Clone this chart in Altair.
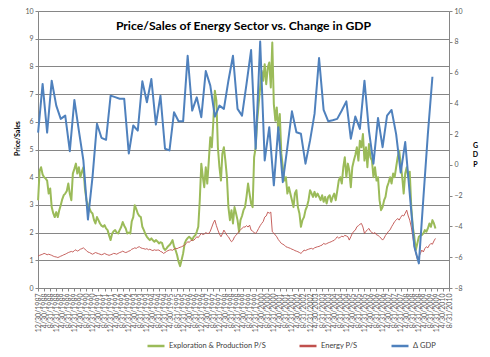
import altair as alt
import pandas as pd

# Exploration & Production P/S, monthly Jan 1988 - Dec 2009
ep_ps = [
    3.17, 4.24, 4.36, 4.10, 4.00, 3.95, 3.88, 3.41, 3.59, 2.92, 2.70, 2.56,
    2.74, 2.56, 2.80, 2.99, 3.20, 3.35, 3.41, 3.50, 3.77, 3.40, 3.17, 4.13,
    4.30, 4.49, 4.13, 4.36, 4.00, 4.20, 4.36, 3.60, 3.17, 3.00, 2.87, 2.75,
    2.69, 2.45, 2.33, 2.56, 2.45, 2.33, 2.25, 2.21, 2.27, 2.15, 2.09, 1.90,
    1.73, 1.97, 2.05, 2.09, 2.00, 1.97, 2.09, 2.20, 2.38, 2.25, 2.15, 1.97,
    2.00, 1.97, 2.40, 2.56, 2.99, 2.85, 2.69, 2.60, 2.56, 2.21, 2.09, 1.95,
    1.85, 1.78, 1.73, 1.79, 1.72, 1.67, 1.73, 1.68, 1.61, 1.65, 1.63, 1.45,
    1.37, 1.43, 1.50, 1.55, 1.62, 1.73, 1.50, 1.37, 1.19, 0.95, 0.79, 1.01,
    1.25, 1.61, 1.73, 1.80, 1.85, 1.80, 1.73, 1.85, 1.90, 2.03, 2.21, 3.17,
    4.49, 4.00, 3.64, 4.36, 3.77, 4.60, 5.44, 5.08, 6.04, 7.12, 6.76, 5.08,
    4.36, 3.88, 4.85, 5.08, 4.60, 4.00, 2.92, 2.45, 2.81, 2.33, 2.92, 2.70,
    2.45, 2.03, 2.45, 2.60, 2.81, 2.92, 3.30, 3.77, 3.40, 3.05, 2.92, 4.72,
    5.08, 6.04, 6.64, 7.24, 7.84, 7.48, 8.08, 7.36, 7.96, 8.14, 7.24, 8.86,
    6.64, 6.04, 6.52, 5.68, 6.28, 4.85, 4.36, 3.88, 4.00, 3.41, 3.64, 3.40,
    3.17, 2.92, 3.41, 3.53, 2.92, 2.69, 2.21, 2.45, 2.56, 2.81, 2.95, 3.17,
    3.53, 3.41, 3.29, 3.47, 3.29, 3.41, 3.30, 3.17, 3.35, 3.11, 3.29, 3.05,
    3.29, 3.35, 3.11, 3.29, 3.41, 3.17, 3.50, 3.88, 4.00, 3.77, 4.36, 4.72,
    4.00, 4.49, 4.24, 3.64, 4.36, 4.60, 4.80, 5.08, 4.60, 5.32, 5.08, 5.56,
    4.60, 5.08, 4.36, 5.20, 4.72, 4.60, 4.00, 4.36, 3.88, 4.00, 3.17, 2.81,
    2.92, 3.17, 3.29, 3.64, 3.80, 4.00, 3.77, 4.13, 4.00, 4.36, 4.72, 4.96,
    4.49, 4.00, 3.41, 4.13, 4.36, 4.00, 4.20, 2.92, 2.21, 1.85, 1.37, 1.61,
    1.85, 1.90, 1.91, 1.97, 2.09, 2.03, 2.15, 2.33, 2.21, 2.45, 2.33, 2.15,
]

# Energy P/S, monthly Jan 1988 - Dec 2009
energy_ps = [
    1.15, 1.18, 1.20, 1.22, 1.25, 1.23, 1.20, 1.22, 1.20, 1.18, 1.15, 1.13,
    1.12, 1.10, 1.12, 1.15, 1.17, 1.20, 1.22, 1.25, 1.28, 1.30, 1.32, 1.30,
    1.35, 1.38, 1.33, 1.36, 1.40, 1.42, 1.45, 1.40, 1.35, 1.30, 1.28, 1.25,
    1.22, 1.25, 1.28, 1.26, 1.24, 1.22, 1.20, 1.22, 1.25, 1.22, 1.20, 1.18,
    1.20, 1.22, 1.25, 1.24, 1.22, 1.25, 1.28, 1.30, 1.33, 1.30, 1.28, 1.30,
    1.33, 1.35, 1.40, 1.42, 1.45, 1.43, 1.47, 1.49, 1.45, 1.43, 1.42, 1.40,
    1.42, 1.38, 1.40, 1.37, 1.35, 1.38, 1.36, 1.37, 1.37, 1.32, 1.30, 1.25,
    1.28, 1.32, 1.35, 1.37, 1.38, 1.36, 1.40, 1.43, 1.42, 1.45, 1.47, 1.49,
    1.52, 1.55, 1.60, 1.67, 1.65, 1.70, 1.73, 1.72, 1.78, 1.85, 1.82, 1.90,
    1.97, 1.93, 1.95, 2.00, 1.97, 1.97, 2.05, 2.20, 2.35, 2.45, 2.25, 2.09,
    1.95, 1.85, 1.95, 2.09, 2.00, 1.90, 1.85, 1.75, 1.67, 1.72, 1.85, 1.90,
    1.97, 2.05, 2.10, 2.15, 2.20, 2.20, 2.25, 2.20, 2.27, 2.09, 2.05, 2.00,
    1.97, 2.05, 2.15, 2.25, 2.33, 2.40, 2.56, 2.60, 2.74, 2.70, 2.74, 2.03,
    1.98, 1.91, 1.85, 1.75, 1.68, 1.61, 1.58, 1.55, 1.49, 1.47, 1.45, 1.43,
    1.40, 1.38, 1.35, 1.33, 1.31, 1.28, 1.25, 1.30, 1.37, 1.35, 1.38, 1.40,
    1.42, 1.43, 1.40, 1.45, 1.47, 1.49, 1.50, 1.53, 1.55, 1.61, 1.58, 1.60,
    1.63, 1.65, 1.67, 1.70, 1.72, 1.78, 1.85, 1.80, 1.83, 1.87, 1.85, 1.90,
    1.88, 1.85, 1.73, 1.85, 1.97, 2.05, 2.09, 2.21, 2.25, 2.30, 2.33, 2.20,
    1.97, 2.05, 2.10, 2.15, 2.05, 2.00, 1.97, 2.00, 1.92, 1.90, 1.85, 1.80,
    1.73, 1.80, 1.90, 1.97, 2.05, 2.10, 2.21, 2.30, 2.40, 2.45, 2.51, 2.45,
    2.55, 2.63, 2.60, 2.70, 2.81, 2.60, 2.45, 2.20, 1.85, 1.50, 1.25, 1.05,
    1.13, 1.25, 1.37, 1.30, 1.42, 1.49, 1.45, 1.55, 1.61, 1.58, 1.70, 1.79,
]

# Change in GDP, quarterly Q1 1988 - Q4 2009
gdp = [
    2.10, 5.26, 2.10, 5.47, 3.85, 2.99, 3.20, 0.89, 4.22, 2.23,
    0.29, -3.55, -0.79, 2.67, 1.76, 1.63, 4.50, 4.40, 4.30, 4.29,
    0.74, 2.56, 2.23, 5.43, 4.07, 5.58, 2.62, 4.50, 1.05, 0.94,
    3.42, 2.84, 2.84, 7.09, 3.53, 4.39, 3.10, 6.10, 5.15, 3.14,
    3.85, 3.64, 5.47, 7.09, 3.64, 3.20, 5.26, 7.46, 1.05, 8.02,
    0.29, 2.45, -1.33, 2.45, -1.12, 1.15, 3.48, 2.12, 2.02, 0.08,
    1.59, 3.31, 6.94, 3.57, 2.84, 2.90, 2.99, 3.53, 4.13, 1.70,
    3.14, 2.34, 5.47, 2.23, 0.08, 3.05, 1.15, 3.20, 3.57, 2.00,
    -0.50, 1.48, -1.87, -5.30, -6.40, -2.20, 2.00, 5.73,
]

series_names = ["Exploration & Production P/S", "Energy P/S", "\u0394 GDP"]
series_colors = ["#9BBB59", "#C0504D", "#4F81BD"]

# x tick dates: 12/30/1987 then every 4 months (month ends) to 8/31/2010
tick_dates = [pd.Timestamp(1987, 12, 30)]
for yr in range(1988, 2011):
    for mo in (4, 8, 12):
        d = pd.Timestamp(yr, mo, 1) + pd.offsets.MonthEnd(0)
        if d <= pd.Timestamp(2010, 8, 31):
            tick_dates.append(d)

months = pd.date_range("1988-01-01", periods=len(ep_ps), freq="MS")
quarters = pd.date_range("1988-01-01", periods=len(gdp), freq="QS")

fmt = "%Y-%m-%dT00:00:00"
ps_df = pd.concat([
    pd.DataFrame({"date": months.strftime(fmt), "value": ep_ps, "series": series_names[0]}),
    pd.DataFrame({"date": months.strftime(fmt), "value": energy_ps, "series": series_names[1]}),
])
gdp_df = pd.DataFrame({"date": quarters.strftime(fmt), "value": gdp, "series": series_names[2]})

FONT = "Lato"
GRAY = "#868686"
LABEL = "#595959"

x_enc = alt.X(
    "date:T",
    scale=alt.Scale(domain=[alt.DateTime(year=1987, month=12, date=30),
                            alt.DateTime(year=2010, month=8, date=31)]),
    axis=alt.Axis(
        values=[alt.DateTime(year=d.year, month=d.month, date=d.day) for d in tick_dates],
        format="%-m/%-d/%Y", labelAngle=270, labelFontSize=7, labelColor=LABEL,
        labelOverlap=False, labelFlush=False, labelBound=False, labelPadding=2,
        tickSize=3, tickColor=GRAY, domainColor=GRAY, grid=False, title=None,
        labelFont=FONT,
    ),
)

color_enc = alt.Color(
    "series:N",
    scale=alt.Scale(domain=series_names, range=series_colors),
    legend=alt.Legend(
        title=None, orient="none", direction="horizontal", legendX=108, legendY=325,
        symbolType="stroke", symbolSize=289, symbolStrokeWidth=2.5,
        labelFontSize=7.5, labelColor="#404040", labelFont=FONT, columnPadding=28,
        labelOffset=3,
    ),
)

ps_layer = alt.Chart(ps_df).mark_line(strokeJoin="round").encode(
    x=x_enc,
    y=alt.Y("value:Q", scale=alt.Scale(domain=[0, 10], nice=False),
            axis=alt.Axis(values=list(range(0, 11)), title="Price/Sales",
                          titleFontSize=7, titleFontWeight="bold", titleColor="#000000",
                          titleFont=FONT, titleAngle=270, titleX=-21, titleY=127,
                          titleAlign="center", titleBaseline="middle",
                          labelFont=FONT, labelFontSize=7, labelColor=LABEL,
                          tickSize=3, tickColor=GRAY, domainColor=GRAY,
                          gridColor=GRAY, gridWidth=1, labelPadding=2)),
    color=color_enc,
    strokeWidth=alt.StrokeWidth("series:N", scale=alt.Scale(domain=series_names[:2], range=[2, 0.9]), legend=None),
)

gdp_layer = alt.Chart(gdp_df).mark_line(strokeWidth=2, strokeJoin="round").encode(
    x=x_enc,
    y=alt.Y("value:Q", scale=alt.Scale(domain=[-8, 10], nice=False),
            axis=alt.Axis(orient="right", values=list(range(-8, 11, 2)), title=["G", "D", "P"],
                          titleAngle=0, titleFontSize=7, titleFontWeight="bold",
                          titleColor="#000000", titleFont=FONT, titleLineHeight=9.5,
                          titleX=26, titleY=130, titleAlign="center", titleBaseline="top",
                          labelFont=FONT, labelFontSize=7, labelColor=LABEL,
                          tickSize=3, tickColor=GRAY, domainColor=GRAY, grid=False,
                          labelPadding=2)),
    color=color_enc,
)

chart = alt.layer(ps_layer, gdp_layer).resolve_scale(
    y="independent"
).properties(
    width=411, height=277,
    autosize=alt.AutoSizeParams(type="none"),
    padding={"left": 30, "top": 3, "right": 33, "bottom": 61},
    title=alt.TitleParams(
        "Price/Sales of Energy Sector vs. Change in GDP",
        font=FONT, fontSize=12.2, fontWeight="bold", color="#000000",
        anchor="middle", offset=0, dy=35, baseline="alphabetic",
    ),
).configure_view(stroke=GRAY).configure(background="white")

chart.save("out.html", embed_options={"renderer": "svg", "actions": False})
